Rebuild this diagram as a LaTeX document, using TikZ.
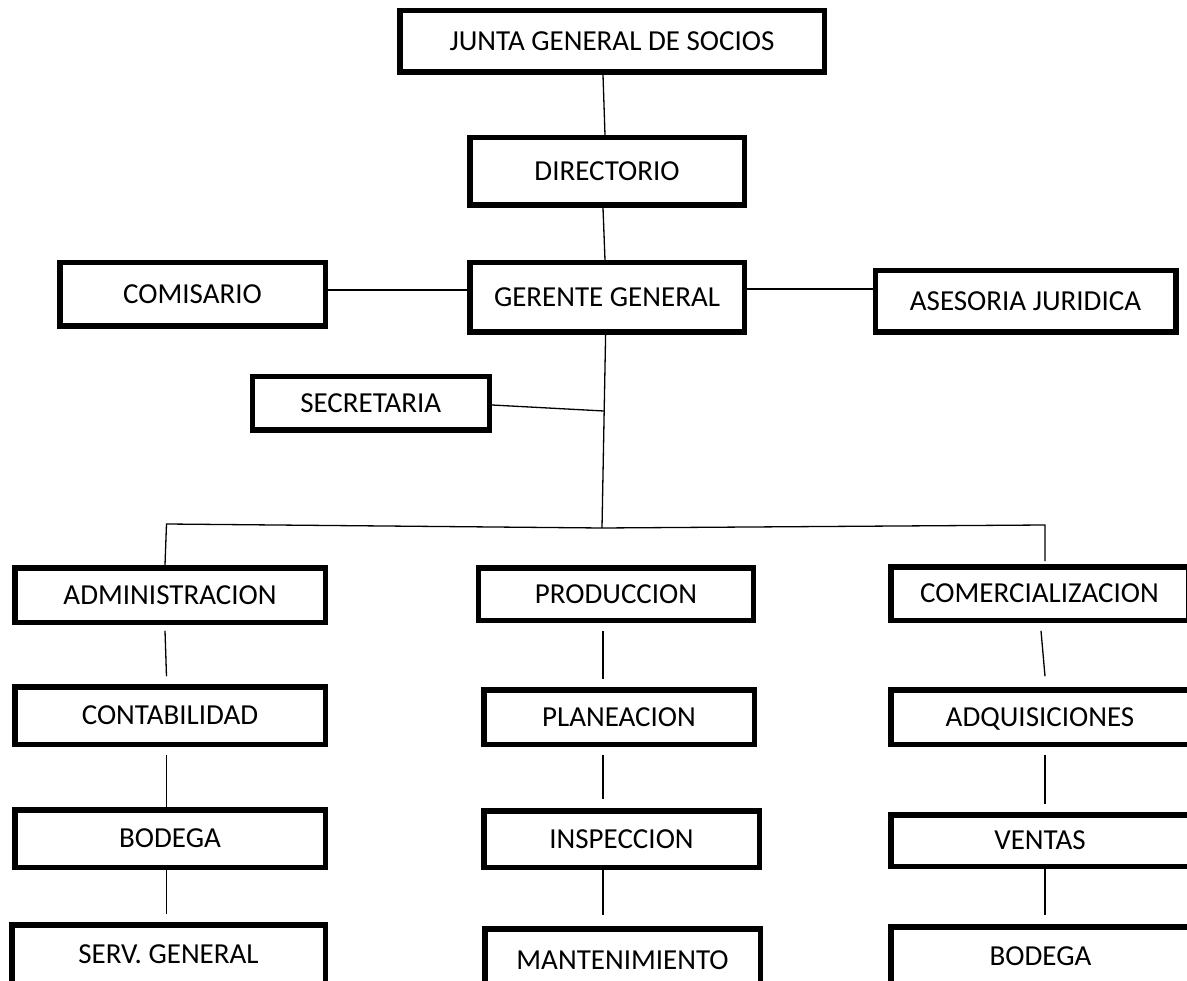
\documentclass[tikz,border=0pt]{standalone}
\usepackage{fontspec}
\setmainfont{Carlito}
\begin{document}
\begin{tikzpicture}[x=1pt,y=-1pt,
  box/.style={draw=black, line width=5.5pt, fill=white, inner sep=0pt,
    font=\fontsize{29}{34}\selectfont, text height=18.3pt, text depth=0pt},
  conn/.style={draw=black, line width=1.3pt}]
\useasboundingbox (0,0) rectangle (1187,981);
\clip (0,0) rectangle (1187,981);
\fill[white] (0,0) rectangle (1187,981);

% boxes (minimum size = outer size - line width)
\node[box, minimum width=424.5pt, minimum height=61.5pt] (junta) at (612,41.5) {JUNTA GENERAL DE SOCIOS};
\node[box, minimum width=274.5pt, minimum height=67.5pt] (dir) at (607,171.5) {DIRECTORIO};
\node[box, minimum width=274.5pt, minimum height=69.5pt] (ger) at (607,297.5) {GERENTE GENERAL};
\node[box, minimum width=265.5pt, minimum height=63.5pt] (com) at (192.5,294.5) {COMISARIO};
\node[box, minimum width=300.5pt, minimum height=61.5pt] (ase) at (1025.5,301.5) {ASESORIA JURIDICA};
\node[box, minimum width=237pt, minimum height=53.5pt] (sec) at (370.75,403.5) {SECRETARIA};

\node[box, minimum width=310.5pt, minimum height=54.5pt] (adm) at (170,595) {ADMINISTRACION};
\node[box, minimum width=275pt, minimum height=52.5pt] (prod) at (616,594) {PRODUCCION};
\node[box, minimum width=297.5pt, minimum height=53.5pt] (comer) at (1039.5,593.5) {COMERCIALIZACION};

\node[box, minimum width=310.5pt, minimum height=57.5pt] (cont) at (170,715.5) {CONTABILIDAD};
\node[box, minimum width=270.5pt, minimum height=54.5pt] (plan) at (619,717) {PLANEACION};
\node[box, minimum width=298.5pt, minimum height=54.5pt] (adq) at (1040,717) {ADQUISICIONES};

\node[box, minimum width=310.5pt, minimum height=57.5pt] (bod1) at (170,838.5) {BODEGA};
\node[box, minimum width=275.5pt, minimum height=56.5pt] (insp) at (621.5,839) {INSPECCION};
\node[box, minimum width=298.5pt, minimum height=51.5pt] (vent) at (1040,840.5) {VENTAS};

\node[box, minimum width=313.5pt, minimum height=58.5pt] (serv) at (168.5,954) {SERV. GENERAL};
\node[box, minimum width=275.5pt, minimum height=62.5pt] (mant) at (622.5,960) {MANTENIMIENTO};
\node[box, minimum width=299.5pt, minimum height=58.5pt] (bod2) at (1040.5,956) {BODEGA};

% junction coordinates
\coordinate (hub) at (602,528);
\coordinate (sj) at (604,411);
\coordinate (cl) at (166.5,524);
\coordinate (cr) at (1045,525);

% top chain
\draw[conn] ([xshift=-9pt]junta.south) -- ([xshift=-2pt]dir.north);
\draw[conn] ([xshift=-4pt]dir.south) -- ([xshift=-2pt]ger.north);
\draw[conn] ([yshift=4.5pt]com.east) -- ([yshift=7.5pt]ger.west);
\draw[conn] ([yshift=8.5pt]ger.east) -- ([yshift=12.5pt]ase.west);
\draw[conn] ([xshift=-1.4pt]ger.south) -- (hub);
\draw[conn] ([yshift=-1.5pt]sec.east) -- (sj);

% distribution bar
\draw[conn] ([xshift=-5pt]adm.north) -- (cl) -- (hub) -- (cr) -- ([xshift=5.5pt,yshift=3pt]comer.north);

% left column
\draw[conn] ([xshift=-5pt,yshift=-5.75pt]adm.south) -- ([xshift=-3.5pt,yshift=7.75pt]cont.north);
\draw[conn] ([xshift=-3.5pt,yshift=-7.75pt]cont.south) -- ([xshift=-3.5pt]bod1.north);
\draw[conn] ([xshift=-3.5pt]bod1.south) -- ([xshift=-2pt,yshift=7.75pt]serv.north);

% middle column
\draw[conn] ([xshift=-13pt,yshift=-7.75pt]prod.south) -- ([xshift=-16pt,yshift=7.75pt]plan.north);
\draw[conn] ([xshift=-16pt,yshift=-7.75pt]plan.south) -- ([xshift=-18.5pt,yshift=8.75pt]insp.north);
\draw[conn] ([xshift=-18.5pt]insp.south) -- ([xshift=-19.5pt,yshift=10.75pt]mant.north);

% right column
\draw[conn] ([xshift=1.5pt,yshift=-7.75pt]comer.south) -- ([xshift=5pt,yshift=10.75pt]adq.north);
\draw[conn] ([xshift=5pt,yshift=-7.75pt]adq.south) -- ([xshift=5pt,yshift=7.75pt]vent.north);
\draw[conn] ([xshift=5pt]vent.south) -- ([xshift=4.5pt,yshift=8.75pt]bod2.north);
\end{tikzpicture}
\end{document}
